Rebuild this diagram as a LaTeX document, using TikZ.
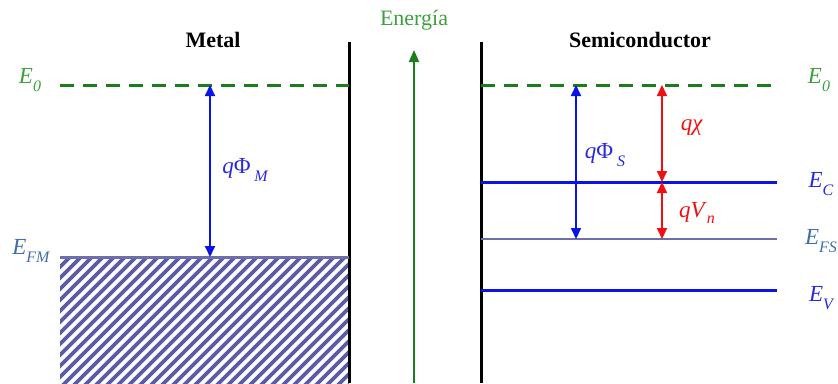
\documentclass[tikz,border=0pt]{standalone}
\usepackage{fontspec}
\setmainfont{Liberation Serif}
\usetikzlibrary{arrows.meta}
\definecolor{egreen}{HTML}{1A7F1A}
\definecolor{lgreen}{HTML}{3DA03D}
\definecolor{eblue}{HTML}{0A14E6}
\definecolor{lblue}{HTML}{2A2AD8}
\definecolor{steel}{HTML}{3E6FA6}
\definecolor{slate}{HTML}{6E6EA8}
\definecolor{hatchc}{HTML}{5C5CA6}
\definecolor{ered}{HTML}{F01010}
\newcommand\bandlab[2]{\textit{#1}\raisebox{-0.35em}{\fontsize{16}{16}\selectfont\itshape #2}}
\begin{document}
\begin{tikzpicture}[x=1pt,y=-1pt,
  txt/.style={font=\fontsize{22}{26}\selectfont, inner sep=0pt},
  etxt/.style={font=\fontsize{23}{26}\selectfont, inner sep=0pt},
  wall/.style={line width=3pt, black},
  vac/.style={line width=3pt, egreen, dash pattern=on 14pt off 9pt},
  cband/.style={line width=3pt, eblue},
  fermi/.style={line width=2.8pt, slate},
  barrow/.style={line width=2pt, eblue, {Triangle[length=11pt,width=10pt]}-{Triangle[length=11pt,width=10pt]}},
  rarrow/.style={line width=2pt, ered, {Triangle[length=11pt,width=10pt]}-{Triangle[length=11pt,width=10pt]}}
]
\useasboundingbox (0,0) rectangle (838,383);
% coordinates
\coordinate (mwT) at (349,42); \coordinate (mwB) at (349,383);
\coordinate (swT) at (481,42); \coordinate (swB) at (481,383);
\coordinate (m0L) at (60,85); \coordinate (m0R) at (349,85);
\coordinate (s0L) at (481,85); \coordinate (s0R) at (777,85);
\coordinate (mfL) at (60,257); \coordinate (mfR) at (349,257);
\coordinate (scL) at (481,182); \coordinate (scR) at (777,182);
\coordinate (sfL) at (481,239); \coordinate (sfR) at (777,239);
\coordinate (svL) at (481,290); \coordinate (svR) at (777,290);
\coordinate (phiMt) at (210,85); \coordinate (phiMb) at (210,257);
\coordinate (phiSt) at (576,85); \coordinate (phiSb) at (576,239);
\coordinate (chit) at (662,85); \coordinate (chib) at (662,182);
\coordinate (vnb) at (662,239);
\coordinate (enB) at (414,383); \coordinate (enT) at (414,50);
% hatch
\begin{scope}
\clip (60,257) rectangle (349,383);
\foreach \x in {-140,-129,...,360}
  \draw[hatchc, line width=3.6pt] (\x,390) -- (\x+140,250);
\end{scope}
% walls
\draw[wall] (mwT) -- (mwB);
\draw[wall] (swT) -- (swB);
% levels
\draw[vac] (m0L) -- (m0R);
\draw[vac] (s0L) -- (s0R);
\draw[fermi, line width=3pt] (mfL) -- (mfR);
\draw[cband] (scL) -- (scR);
\draw[fermi] (sfL) -- (sfR);
\draw[cband] (svL) -- (svR);
% arrows
\draw[barrow] (phiMt) -- (phiMb);
\draw[barrow] (phiSt) -- (phiSb);
\draw[rarrow] (chit) -- (chib);
\draw[rarrow] (chib) -- (vnb);
\draw[line width=2pt, egreen, -{Triangle[length=12pt,width=10pt]}] (enB) -- (enT);
% labels
\node[txt, font=\fontsize{22}{26}\selectfont\bfseries] (metal) at (213,40) {Metal};
\node[txt, font=\fontsize{22}{26}\selectfont\bfseries] (semi) at (640,40) {Semiconductor};
\node[txt, lgreen] (energia) at (414,20) {Energía};
\node[etxt, lgreen] (e0l) at (30,80) {\bandlab{E}{0}};
\node[etxt, lgreen] (e0r) at (819,80) {\bandlab{E}{0}};
\node[etxt, steel] (efm) at (31,251) {\bandlab{E}{FM}};
\node[etxt, steel] (efs) at (821,241) {\bandlab{E}{FS}};
\node[etxt, lblue] (ec) at (821,184) {\bandlab{E}{C}};
\node[etxt, lblue] (ev) at (821,298) {\bandlab{E}{V}};
\node[etxt, lblue] (lphim) at (245,170) {\textit{q}Φ\,\raisebox{-0.35em}{\fontsize{16}{16}\selectfont\itshape M}};
\node[etxt, lblue] (lphis) at (605,155) {\textit{q}Φ\,\raisebox{-0.35em}{\fontsize{16}{16}\selectfont\itshape S}};
\node[etxt, ered] (lchi) at (692,128) {\textit{qχ}};
\node[etxt, ered] (lvn) at (697,213) {\textit{qV}\raisebox{-0.3em}{\fontsize{16}{16}\selectfont\itshape n}};
\end{tikzpicture}
\end{document}
